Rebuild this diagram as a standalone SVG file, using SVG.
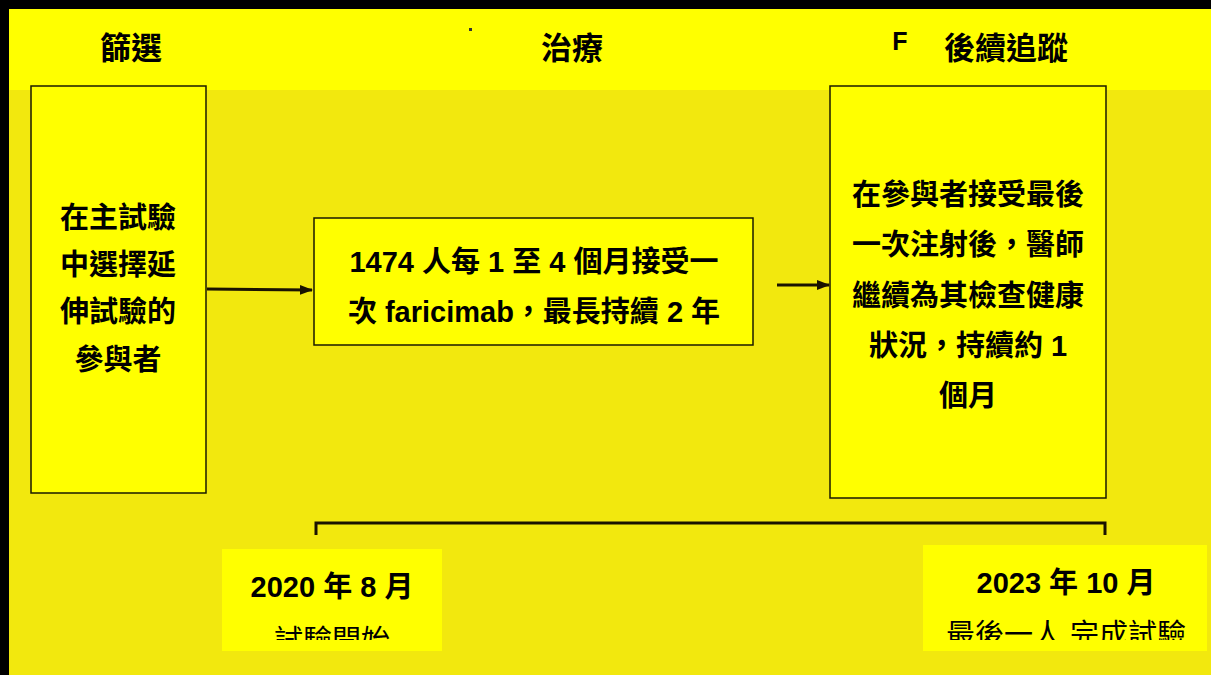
<svg xmlns="http://www.w3.org/2000/svg" width="1211" height="675" viewBox="0 0 1211 675">
<style>
.h{font-family:"Liberation Sans","Noto Sans CJK TC",sans-serif;font-weight:bold;font-size:31px;fill:#000;text-anchor:middle}
.t{font-family:"Liberation Sans","Noto Sans CJK TC",sans-serif;font-weight:bold;font-size:29px;fill:#000;text-anchor:middle}
.d{font-family:"Liberation Sans","Noto Sans CJK TC",sans-serif;font-weight:bold;font-size:29px;fill:#000;text-anchor:middle}
.r{font-family:"Liberation Sans","Noto Sans CJK TC",sans-serif;font-weight:normal;font-size:29px;fill:#000;text-anchor:middle}
.box{fill:#FFFF00;stroke:#1a1a00;stroke-width:1.5}
.conn{stroke:#1a1200;stroke-width:3;fill:none}
</style>
<defs>
<marker id="ah" markerWidth="14" markerHeight="14" refX="12" refY="6" orient="auto" markerUnits="userSpaceOnUse">
<path d="M0,1 L13,6 L0,11 Z" fill="#1a1200"/>
</marker>
<clipPath id="c1"><rect x="222" y="549" width="220" height="91"/></clipPath>
<clipPath id="c2"><rect x="923" y="545" width="284" height="95"/></clipPath>
</defs>
<rect x="0" y="0" width="1211" height="675" fill="#000"/>
<rect x="9" y="9" width="1202" height="666" fill="#F2E80E"/>
<rect x="9" y="9" width="1202" height="81" fill="#FFFF00"/>
<g id="headers">
<text class="h" x="131" y="59">篩選</text>
<text class="h" x="572" y="59">治療</text>
<text class="h" x="900" y="50" style="font-size:25px">F</text>
<text class="h" x="1006" y="59">後續追蹤</text>
<rect x="469" y="28" width="3" height="3" fill="#333"/>
</g>
<g id="screening">
<rect class="box" x="31" y="86" width="175" height="407"/>
<text class="t" x="118" y="228">在主試驗</text>
<text class="t" x="118" y="275">中選擇延</text>
<text class="t" x="118" y="322">伸試驗的</text>
<text class="t" x="118" y="370">參與者</text>
</g>
<g id="treatment">
<rect class="box" x="314" y="218" width="439" height="127"/>
<text class="t" x="534" y="272">1474 人每 1 至 4 個月接受一</text>
<text class="t" x="534" y="322">次 faricimab，最長持續 2 年</text>
</g>
<g id="followup">
<rect class="box" x="830" y="86" width="276" height="412"/>
<text class="t" x="968" y="205">在參與者接受最後</text>
<text class="t" x="968" y="255">一次注射後，醫師</text>
<text class="t" x="968" y="306">繼續為其檢查健康</text>
<text class="t" x="968" y="356">狀況，持續約 1</text>
<text class="t" x="968" y="406">個月</text>
</g>
<g id="start">
<rect x="222" y="549" width="220" height="102" fill="#FFFF00"/>
<text class="d" x="332" y="597">2020 年 8 月</text>
<text class="r" x="332" y="651" clip-path="url(#c1)">試驗開始</text>
</g>
<g id="end">
<rect x="923" y="545" width="284" height="106" fill="#FFFF00"/>
<text class="d" x="1066" y="593">2023 年 10 月</text>
<text class="r" x="1066" y="645" clip-path="url(#c2)">最後一人 完成試驗</text>
</g>
<g id="connectors">
<line class="conn" x1="207" y1="289" x2="312" y2="290" marker-end="url(#ah)"/>
<line class="conn" x1="777" y1="285" x2="829" y2="285" marker-end="url(#ah)"/>
<path class="conn" d="M316,535 L316,523 L1105,523 L1105,535"/>
</g>
</svg>
